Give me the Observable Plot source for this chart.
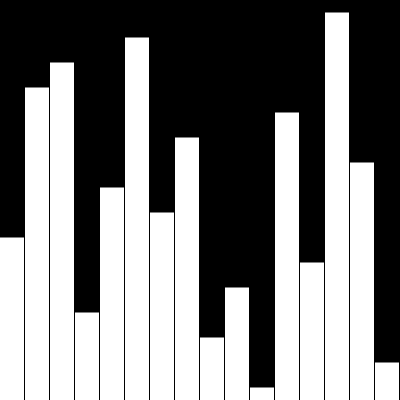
<!DOCTYPE html>
<html>
<head>
<meta charset="utf-8">
<script src="https://cdn.jsdelivr.net/npm/d3@7"></script>
<script src="https://cdn.jsdelivr.net/npm/@observablehq/plot@0.6"></script>
<style>
html, body { margin: 0; padding: 0; background: #000; }
</style>
</head>
<body>
<div id="chart"></div>
<script>
const categories = ["A","B","C","D","E","F","G","H","I","J","K","L","M","N","O","P"];
const values = [6.5, 12.5, 13.5, 3.5, 8.5, 14.5, 7.5, 10.5, 2.5, 4.5, 0.5, 11.5, 5.5, 15.5, 9.5, 1.5];
const data = categories.map((c, i) => ({category: c, value: values[i]}));

const chart = Plot.plot({
  width: 400,
  height: 400,
  margin: 0,
  style: {background: "#000", display: "block"},
  x: {type: "band", domain: categories, padding: 0, axis: null},
  y: {domain: [0, 16], axis: null},
  marks: [
    Plot.barY(data, {x: "category", y: "value", fill: "#fff", insetLeft: 0, insetRight: 1})
  ]
});
document.getElementById("chart").append(chart);
</script>
</body>
</html>
